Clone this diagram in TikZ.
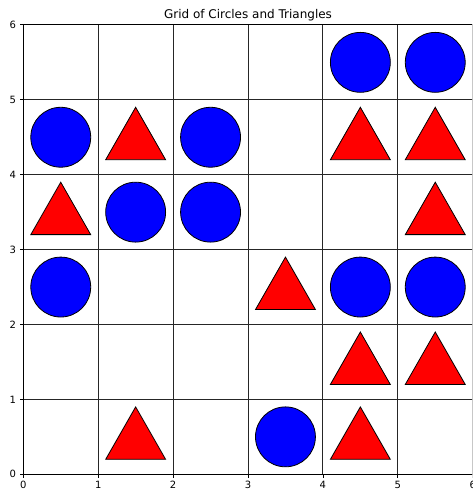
\documentclass[tikz,border=0pt]{standalone}
\usepackage{fontspec}
\setmainfont{DejaVu Sans}
\begin{document}
\begin{tikzpicture}[x=74.9pt,y=74.9pt,
  gridline/.style={line width=1pt, black!85},
  spine/.style={line width=0.8pt, black},
  tickmark/.style={line width=0.8pt, black},
  circ/.style={fill=blue, draw=black, line width=0.8pt},
  tri/.style={fill=red, draw=black, line width=0.8pt, line join=miter},
  ticklab/.style={font=\fontsize{10}{12}\selectfont, inner sep=0pt},
  titlelab/.style={font=\fontsize{12}{14}\selectfont, inner sep=0pt}]
\useasboundingbox (-23.3pt,-15.7pt) rectangle (448.7pt,474.3pt);
\clip (-23.3pt,-15.7pt) rectangle (448.7pt,474.3pt);
\fill[white] (-23.3pt,-15.7pt) rectangle (448.7pt,474.3pt);
% grid
\foreach \i in {0,...,6} {
  \draw[gridline] (\i,0) -- (\i,6);
  \draw[gridline] (0,\i) -- (6,\i);
}
% circles
\foreach \p/\q in {4.5/5.5,5.5/5.5,0.5/4.5,2.5/4.5,1.5/3.5,2.5/3.5,0.5/2.5,4.5/2.5,5.5/2.5,3.5/0.5} {
  \draw[circ] (\p,\q) circle[radius=0.4];
}
% triangles
\foreach \p/\q in {1.5/4.5,4.5/4.5,5.5/4.5,0.5/3.5,5.5/3.5,3.5/2.5,4.5/1.5,5.5/1.5,1.5/0.5,4.5/0.5} {
  \draw[tri] (\p-0.4,\q-0.3) -- (\p+0.4,\q-0.3) -- (\p,\q+0.4) -- cycle;
}
% spines
\draw[spine] (0,0) rectangle (6,6);
% ticks and labels
\foreach \i in {0,...,6} {
  \draw[tickmark] (\i,0) -- ++(0,-3.5pt);
  \draw[tickmark] (0,\i) -- ++(-3.5pt,0);
  \node[ticklab, anchor=north, yshift=-7pt] (xl\i) at (\i,0) {\i};
  \node[ticklab, anchor=east, xshift=-7pt] (yl\i) at (0,\i) {\i};
}
\node[titlelab, anchor=base, yshift=6pt] (title) at (3,6) {Grid of Circles and Triangles};
\end{tikzpicture}
\end{document}
